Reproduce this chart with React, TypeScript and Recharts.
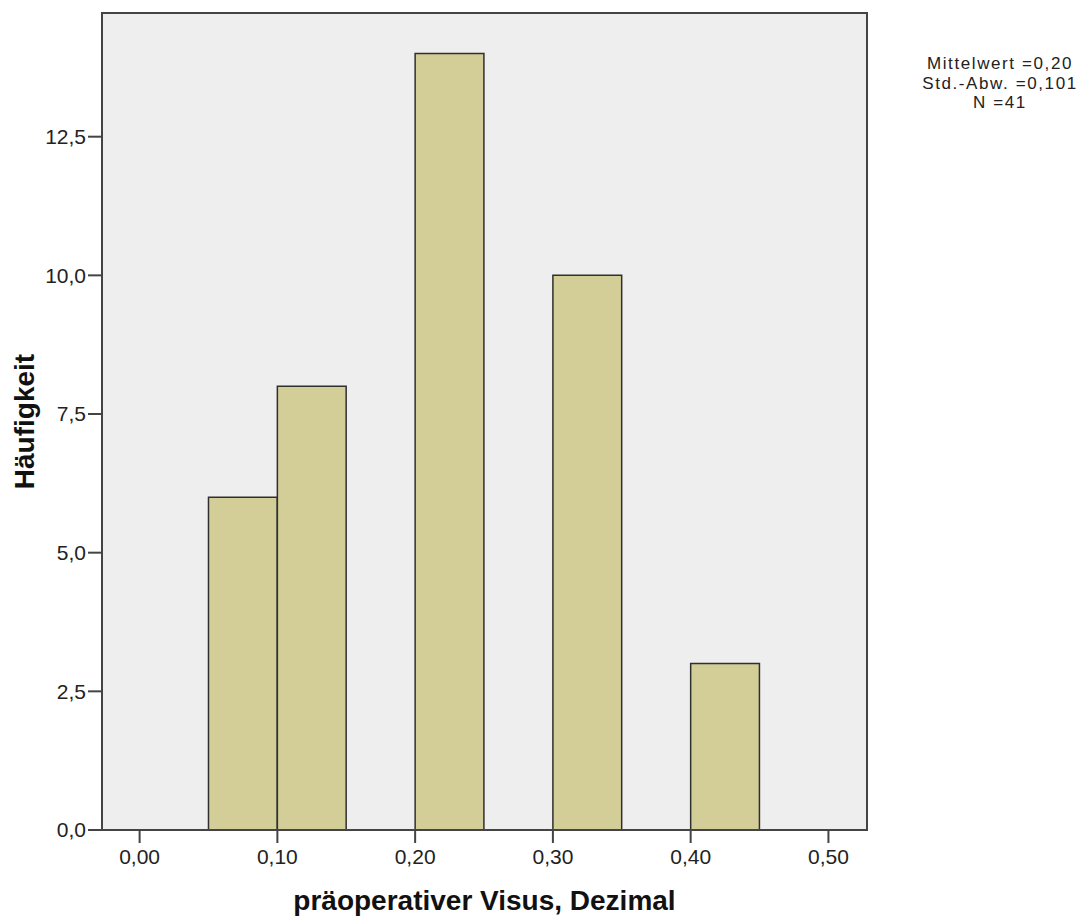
import {
  ComposedChart,
  Bar,
  XAxis,
  YAxis,
  CartesianGrid,
  ReferenceArea,
} from 'recharts';

// Histogramm: Klassen (Untergrenze) und Häufigkeiten
const binStarts = [0.05, 0.1, 0.2, 0.3, 0.4];
const counts = [6, 8, 14, 10, 3];
const binWidth = 0.05;

const xTicks = [0, 0.1, 0.2, 0.3, 0.4, 0.5];
const yTicks = [0, 2.5, 5, 7.5, 10, 12.5];

const statsLines = ['Mittelwert =0,20', 'Std.-Abw. =0,101', 'N =41'];

const xLabel = 'präoperativer Visus, Dezimal';
const yLabel = 'Häufigkeit';

const W = 1090;
const H = 917;
const margin = { top: 13, right: 223, left: 0, bottom: 0 };
const yAxisWidth = 102;
const xAxisHeight = 87;
const xDomain: [number, number] = [-0.0273, 0.528];
const yDomain: [number, number] = [0, 14.73];

const plotWidth = W - margin.left - margin.right - yAxisWidth;
// etwas kleiner als die Bandbreite, sonst kürzt recharts auf 90 %
const barSize = (plotWidth * binWidth) / (xDomain[1] - xDomain[0]) - 0.1;

const chartData = binStarts.map((s, i) => ({
  mid: s + binWidth / 2,
  count: counts[i],
}));

const fmt = (v: number, d: number) => v.toFixed(d).replace('.', ',');

const axisColor = '#444444';
const font = '"Liberation Sans", Arial, sans-serif';

export default function App() {
  return (
    <div
      style={{
        position: 'absolute',
        left: 0,
        top: 0,
        width: W,
        height: H,
        background: '#ffffff',
        fontFamily: font,
      }}
    >
      <ComposedChart
        width={W}
        height={H}
        data={chartData}
        margin={margin}
        barCategoryGap={0}
        barGap={0}
      >
        <CartesianGrid fill="#eeeeee" horizontal={false} vertical={false} stroke="none" />
        <XAxis
          dataKey="mid"
          type="number"
          domain={xDomain}
          allowDataOverflow
          ticks={xTicks}
          interval={0}
          tickFormatter={(v: number) => fmt(v, 2)}
          height={xAxisHeight}
          tickSize={13}
          tickMargin={6}
          axisLine={{ stroke: axisColor, strokeWidth: 2 }}
          tickLine={{ stroke: axisColor, strokeWidth: 2 }}
          tick={{ fill: '#222222', fontSize: 21, fontFamily: font }}
          label={{
            value: xLabel,
            position: 'insideBottom',
            offset: 7,
            fill: '#111111',
            fontSize: 28,
            fontWeight: 'bold',
            fontFamily: font,
          }}
        />
        <YAxis
          type="number"
          domain={yDomain}
          allowDataOverflow
          ticks={yTicks}
          interval={0}
          tickFormatter={(v: number) => fmt(v, 1)}
          width={yAxisWidth}
          tickSize={14}
          tickMargin={2}
          axisLine={{ stroke: axisColor, strokeWidth: 2 }}
          tickLine={{ stroke: axisColor, strokeWidth: 2 }}
          tick={{ fill: '#222222', fontSize: 21, fontFamily: font }}
          label={{
            value: yLabel,
            angle: -90,
            position: 'center',
            dx: -27,
            fill: '#111111',
            fontSize: 28,
            fontWeight: 'bold',
            fontFamily: font,
          }}
        />
        <Bar
          dataKey="count"
          fill="#d3ce98"
          stroke="#2f2f2f"
          strokeWidth={1.5}
          barSize={barSize}
          isAnimationActive={false}
        />
        {/* Rahmen um den Plotbereich */}
        <ReferenceArea
          x1={xDomain[0]}
          x2={xDomain[1]}
          y1={yDomain[0]}
          y2={yDomain[1]}
          fill="none"
          fillOpacity={0}
          stroke={axisColor}
          strokeWidth={2}
          ifOverflow="visible"
        />
      </ComposedChart>
      <div
        style={{
          position: 'absolute',
          left: 900,
          width: 200,
          top: 54,
          textAlign: 'center',
          fontSize: 17,
          lineHeight: '19.6px',
          letterSpacing: 1.6,
          color: '#222222',
        }}
      >
        {statsLines.map((l) => (
          <div key={l}>{l}</div>
        ))}
      </div>
    </div>
  );
}
